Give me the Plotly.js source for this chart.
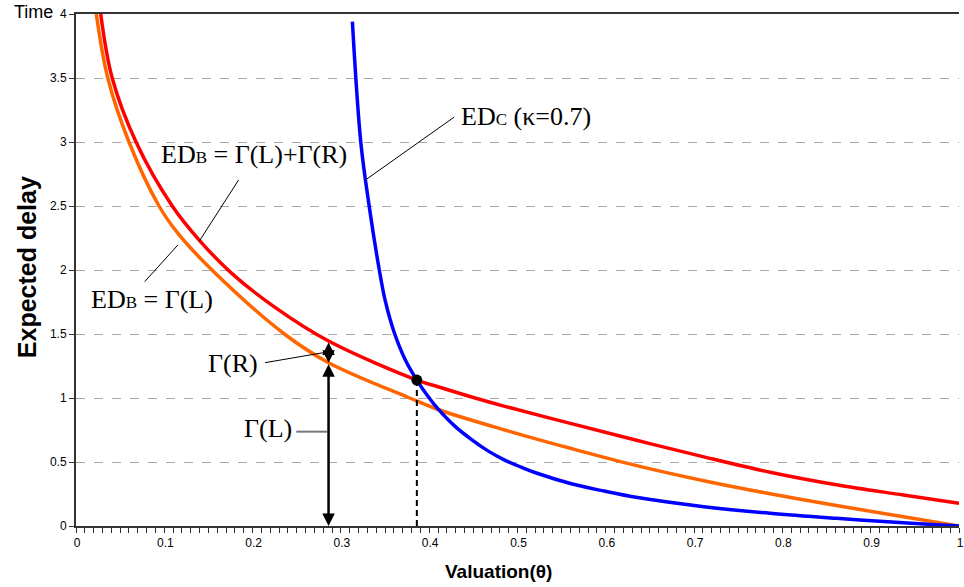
<!DOCTYPE html>
<html>
<head>
<meta charset="utf-8">
<script src="https://cdn.plot.ly/plotly-3.0.1.min.js"></script>
<style>html,body{margin:0;padding:0;background:#fff;}#chart{width:964px;height:587px;}</style>
</head>
<body>
<div id="chart"></div>
<script>
// ED_B = Γ(L)+Γ(R)  (red)
const thetaRed = [0.028, 0.041, 0.068, 0.109, 0.140, 0.177, 0.225, 0.286, 0.386, 0.410, 0.452, 0.4855, 0.561, 0.636, 0.711, 0.786, 0.861, 0.937, 1.0];
const edRed    = [4.0, 3.5, 3.0, 2.5, 2.23, 1.97, 1.71, 1.445, 1.14, 1.088, 1.0, 0.935, 0.80, 0.668, 0.54, 0.42, 0.322, 0.242, 0.177];
// ED_B = Γ(L)  (orange)
const thetaOrange = [0.023, 0.036, 0.060, 0.094, 0.115, 0.154, 0.236, 0.286, 0.378, 0.410, 0.4855, 0.561, 0.636, 0.711, 0.786, 0.861, 0.937, 1.0];
const edOrange    = [4.0, 3.5, 3.0, 2.5, 2.29, 2.0, 1.5, 1.276, 1.0, 0.91, 0.75, 0.605, 0.47, 0.354, 0.252, 0.160, 0.072, 0.0];
// ED_C (κ=0.7)  (blue)
const thetaBlue = [0.313, 0.3225, 0.332, 0.3435, 0.350, 0.360, 0.373, 0.386, 0.400, 0.410, 0.429, 0.448, 0.467, 0.4855, 0.504, 0.523, 0.561, 0.598, 0.636, 0.711, 0.786, 0.861, 0.937, 0.974, 1.0];
const edBlue    = [3.94, 3.0, 2.5, 2.0, 1.766, 1.52, 1.297, 1.14, 1.0, 0.915, 0.78, 0.675, 0.585, 0.515, 0.46, 0.41, 0.33, 0.273, 0.222, 0.151, 0.099, 0.06, 0.026, 0.01, 0.0];
// equilibrium point (intersection of ED_B and ED_C)
const eqTheta = [0.386];
const eqDelay = [1.14];
// θ where Γ(L), Γ(R) are marked
const markTheta = 0.286;

const gL = edOrange[thetaOrange.indexOf(markTheta)];
const gLR = edRed[thetaRed.indexOf(markTheta)];

const serif = 'Liberation Serif, Times New Roman, serif';
const sans = 'Liberation Sans, Arial, sans-serif';
const small = (s) => '<span style="font-size:17px">' + s + '</span>';

const lineStyle = (c) => ({color: c, width: 3.5, shape: 'spline', smoothing: 1});
const traces = [
  {x: thetaOrange, y: edOrange, mode: 'lines', line: lineStyle('#FF6600'), hoverinfo: 'none'},
  {x: thetaRed, y: edRed, mode: 'lines', line: lineStyle('#FF0000'), hoverinfo: 'none'},
  {x: thetaBlue, y: edBlue, mode: 'lines', line: lineStyle('#0000FF'), hoverinfo: 'none'},
  {x: [eqTheta[0], eqTheta[0]], y: [0, eqDelay[0]], mode: 'lines', line: {color: '#000', width: 2, dash: '6px,4px'}, hoverinfo: 'none'},
  {x: eqTheta, y: eqDelay, mode: 'markers', marker: {color: '#000', size: 11}, hoverinfo: 'none'}
];

const txtFont = {family: serif, size: 26, color: '#000'};
const annotations = [
  {xref: 'paper', yref: 'paper', x: -0.0485, y: 1.004, xanchor: 'center', yanchor: 'middle', text: 'Time', showarrow: false, font: {family: sans, size: 18, color: '#000'}},
  {xref: 'paper', yref: 'paper', x: -0.0552, y: 0.506, xanchor: 'center', yanchor: 'middle', textangle: -90, text: '<b>Expected delay</b>', showarrow: false, font: {family: sans, size: 25, color: '#000'}},
  {xref: 'paper', yref: 'paper', x: 0.478, y: -0.088, xanchor: 'center', yanchor: 'middle', text: '<b>Valuation(θ)</b>', showarrow: false, font: {family: sans, size: 19, color: '#000'}},
  {x: 0.4337, y: 3.20, xanchor: 'left', yanchor: 'middle', text: 'ED' + small('C') + ' (κ=0.7)', showarrow: false, font: txtFont},
  {x: 0.0939, y: 2.90, xanchor: 'left', yanchor: 'middle', text: 'ED' + small('B') + ' = Γ(L)+Γ(R)', showarrow: false, font: txtFont},
  {x: 0.015, y: 1.773, xanchor: 'left', yanchor: 'middle', text: 'ED' + small('B') + ' = Γ(L)', showarrow: false, font: txtFont},
  {x: 0.147, y: 1.266, xanchor: 'left', yanchor: 'middle', text: 'Γ(R)', showarrow: false, font: txtFont},
  {x: 0.188, y: 0.758, xanchor: 'left', yanchor: 'middle', text: 'Γ(L)', showarrow: false, font: txtFont},
  {x: markTheta, y: 0, ax: markTheta, ay: gL, xref: 'x', yref: 'y', axref: 'x', ayref: 'y', text: '', showarrow: true, arrowhead: 2, arrowside: 'end+start', arrowwidth: 2.5, arrowsize: 1, arrowcolor: '#000', standoff: 0, startstandoff: 0},
  {x: markTheta, y: gL, ax: markTheta, ay: gLR, xref: 'x', yref: 'y', axref: 'x', ayref: 'y', text: '', showarrow: true, arrowhead: 2, arrowside: 'end+start', arrowwidth: 2.5, arrowsize: 1, arrowcolor: '#000', standoff: 0, startstandoff: 0}
];

const shapes = [
  {type: 'line', x0: 0.4284, y0: 3.195, x1: 0.3277, y1: 2.703, line: {color: '#000', width: 1}},
  {type: 'line', x0: 0.1841, y0: 2.703, x1: 0.1398, y1: 2.227, line: {color: '#000', width: 1}},
  {type: 'line', x0: 0.1153, y0: 2.195, x1: 0.0778, y1: 1.909, line: {color: '#000', width: 1}},
  {type: 'line', x0: 0.2142, y0: 1.276, x1: 0.2826, y1: 1.357, line: {color: '#000', width: 1}},
  {type: 'line', x0: 0.2495, y0: 0.737, x1: 0.2844, y1: 0.737, line: {color: '#777', width: 2}}
];

const layout = {
  width: 964, height: 587,
  margin: {l: 76, r: 5, t: 14, b: 61},
  paper_bgcolor: '#fff', plot_bgcolor: '#fff',
  showlegend: false,
  xaxis: {
    range: [0, 1], tick0: 0, dtick: 0.1, ticks: 'outside', ticklen: 5, tickcolor: '#333', tickwidth: 1,
    showline: true, linecolor: '#333', linewidth: 2, mirror: true, showgrid: false, zeroline: false,
    tickfont: {family: sans, size: 12, color: '#000'}, ticklabeloverflow: 'allow', ticklabelshift: 1,
    minor: {dtick: 0.01, ticks: 'outside', ticklen: 5, tickcolor: '#333', tickwidth: 1, showgrid: false}
  },
  yaxis: {
    range: [0, 4], tick0: 0, dtick: 0.5, ticks: 'outside', ticklen: 5, tickcolor: '#333', tickwidth: 1,
    showline: true, linecolor: '#333', linewidth: 2, showgrid: true, gridcolor: '#aaa', griddash: 'dash', gridwidth: 1,
    zeroline: false, ticklabeloverflow: 'allow',
    tickfont: {family: sans, size: 12, color: '#000'}
  },
  annotations: annotations,
  shapes: shapes
};

Plotly.newPlot('chart', traces, layout, {staticPlot: true, displayModeBar: false});
</script>
</body>
</html>
